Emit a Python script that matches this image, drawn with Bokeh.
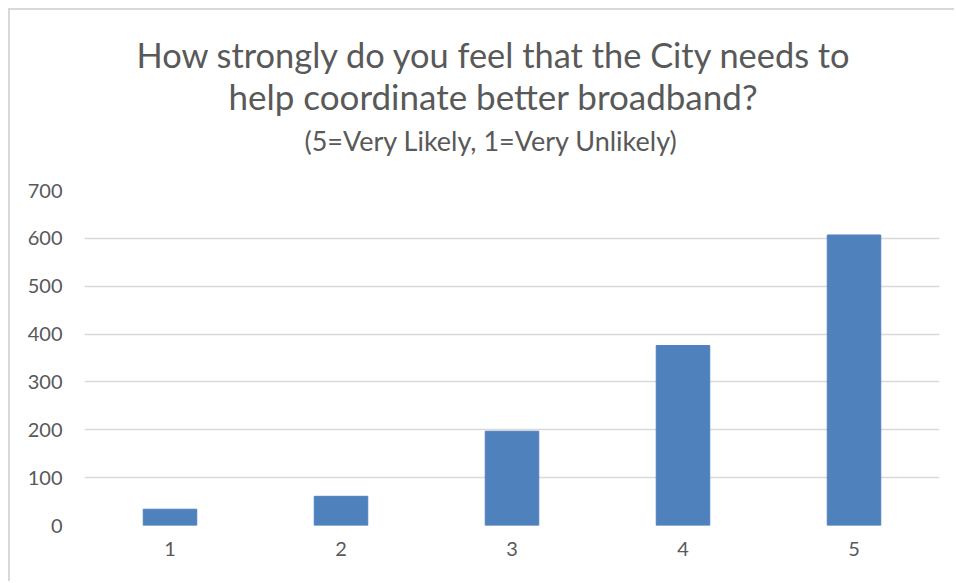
from bokeh.plotting import figure
from bokeh.models import Title, FixedTicker, Range1d
from bokeh.embed import file_html
from bokeh.resources import INLINE

categories = ["1", "2", "3", "4", "5"]
counts = [34, 61, 197, 376, 607]
y_ticks = [0, 100, 200, 300, 400, 500, 600, 700]
title_line1 = "How strongly do you feel that the City needs to"
title_line2 = "help coordinate better broadband?"
subtitle = "(5=Very Likely, 1=Very Unlikely)"

FONT = "Lato"
TXT = "#595959"

p = figure(x_range=categories, y_range=Range1d(0, 700),
           width=946, height=573, output_backend="svg", toolbar_location=None,
           min_border_left=74, min_border_right=17, min_border_bottom=58,
           min_border_top=180)
p.margin = (8, 0, 0, 8)
p.styles = {"border-top": "2px solid #d9d9d9", "border-left": "2px solid #d9d9d9"}

p.vbar(x=categories, top=counts, width=0.313, fill_color="#4f81bd", line_color="#4f81bd")

# spacer between the plot frame and the subtitle
p.add_layout(Title(text=" ", text_font_size="1px", standoff=31), "above")
p.add_layout(Title(text=subtitle, align="left", offset=220, text_font=FONT, text_font_size="27px",
                   text_color=TXT, text_font_style="normal", standoff=0), "above")
p.add_layout(Title(text=title_line2, align="left", offset=144, text_font=FONT, text_font_size="35px",
                   text_color=TXT, text_font_style="normal", standoff=10), "above")
p.add_layout(Title(text=title_line1, align="left", offset=52, text_font=FONT, text_font_size="34.4px",
                   text_color=TXT, text_font_style="normal", standoff=-14), "above")

p.outline_line_color = None
p.xgrid.grid_line_color = None
p.ygrid.grid_line_color = "#d9d9d9"
p.ygrid.grid_line_width = 1.5
p.yaxis.ticker = FixedTicker(ticks=y_ticks)

for ax in (p.xaxis[0], p.yaxis[0]):
    ax.axis_line_color = None
    ax.major_tick_line_color = None
    ax.minor_tick_line_color = None
    ax.major_tick_out = 0
    ax.major_tick_in = 0
    ax.major_label_text_font = FONT
    ax.major_label_text_font_size = "20px"
    ax.major_label_text_color = TXT
p.yaxis.major_label_standoff = 22
p.xaxis.major_label_standoff = 16

open("out.html", "w").write(file_html(p, INLINE))
